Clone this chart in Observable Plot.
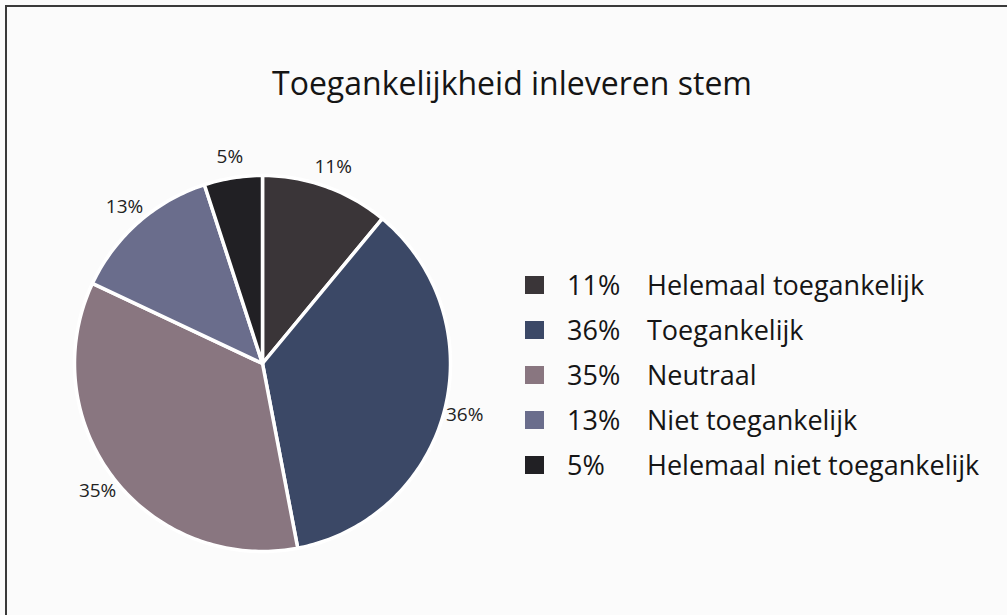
<!DOCTYPE html>
<html>
<head>
<meta charset="utf-8">
<script src="https://cdn.jsdelivr.net/npm/d3@7"></script>
<script src="https://cdn.jsdelivr.net/npm/@observablehq/plot@0.6"></script>
<style>
  html, body { margin: 0; padding: 0; background: #fbfbfb; }
  #frame { position: absolute; left: 0; top: 0; width: 1007px; height: 615px; background: #fbfbfb; overflow: hidden; font-family: "Open Sans", sans-serif; color: #151515; }
  #border { position: absolute; left: 5px; top: 5px; width: 1020px; height: 630px; border-left: 2px solid #3a3a3a; border-top: 2px solid #3a3a3a; }
  #title { position: absolute; left: 0; top: 67px; width: 1024px; text-align: center; font-size: 32px; line-height: 32px; white-space: nowrap; }
  #chart { position: absolute; left: 22px; top: 123px; }
  #legend { position: absolute; left: 525px; top: 262px; font-size: 27px; }
  .row { position: relative; height: 45px; width: 470px; }
  .sw { position: absolute; left: 0; top: 14px; width: 19px; height: 18px; }
  .pct { position: absolute; left: 42px; top: 0; line-height: 45px; }
  .lab { position: absolute; left: 122px; top: 0; line-height: 45px; white-space: nowrap; }
</style>
</head>
<body>
<div id="frame">
  <div id="border"></div>
  <div id="title"></div>
  <div id="chart"></div>
  <div id="legend"></div>
</div>
<script>
const titleText = "Toegankelijkheid inleveren stem";
const categories = ["Helemaal toegankelijk", "Toegankelijk", "Neutraal", "Niet toegankelijk", "Helemaal niet toegankelijk"];
const values = [11, 36, 35, 13, 5];
const colors = ["#3a3538", "#3b4866", "#897680", "#6a6d8c", "#212024"];

document.getElementById("title").textContent = titleText;

// Slice geometry (clockwise from 12 o'clock), computed from the values
const total = d3.sum(values);
const pieRows = [];
const labelRows = [];
let acc = 0;
categories.forEach((c, i) => {
  const a0 = acc / total * 2 * Math.PI;
  acc += values[i];
  const a1 = acc / total * 2 * Math.PI;
  pieRows.push({cat: c, x: 0, y: 0});
  const n = Math.max(2, Math.ceil((a1 - a0) / (Math.PI / 180)));
  for (let k = 0; k <= n; k++) {
    const a = a0 + (a1 - a0) * k / n;
    pieRows.push({cat: c, x: Math.sin(a), y: Math.cos(a)});
  }
  pieRows.push({cat: c, x: 0, y: 0});
  const am = (a0 + a1) / 2;
  labelRows.push({cat: c, label: `${values[i]}%`, x: 1.11 * Math.sin(am), y: 1.11 * Math.cos(am)});
});

const R = 1.2766;
const chart = Plot.plot({
  width: 480,
  height: 480,
  margin: 0,
  x: {domain: [-R, R], axis: null},
  y: {domain: [-R, R], axis: null},
  color: {domain: categories, range: colors},
  style: {background: "transparent", fontFamily: "'Open Sans', sans-serif", overflow: "visible"},
  marks: [
    Plot.line(pieRows, {x: "x", y: "y", z: "cat", fill: "cat", stroke: "white", strokeWidth: 3.5, strokeLinejoin: "round", strokeLinecap: "round"}),
    Plot.text(labelRows, {x: "x", y: "y", text: "label", fontSize: 19, fill: "#222"})
  ]
});
document.getElementById("chart").appendChild(chart);

// Legend
const legend = d3.select("#legend");
categories.forEach((c, i) => {
  const row = legend.append("div").attr("class", "row");
  row.append("div").attr("class", "sw").style("background", colors[i]);
  row.append("div").attr("class", "pct").text(`${values[i]}%`);
  row.append("div").attr("class", "lab").text(c);
});
</script>
</body>
</html>
